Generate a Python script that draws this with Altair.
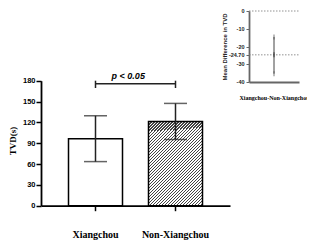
import altair as alt
import pandas as pd

# ---- data ----
groups = ["Xiangchou", "Non-Xiangchou"]
means = [96.5, 121.3]
sds = [33.0, 26.0]
y_ticks = [0, 30, 60, 90, 120, 150, 180]

bracket_y = 175.7
bracket_lo = 169.5
bracket_hi = 180.0
p_label = "p < 0.05"
p_y = 186.8

diff_label = "Xiangchou-Non-Xiangchou"
diff_mean = [-24.70]
diff_lo = [-35.3]
diff_hi = [-14.6]
diff_ticks = [0, -10, -20, -24.70, -30, -40]
diff_tick_labels = ["0", "-10", "-20", "-24.70", "-30", "-40"]
ref_lines = [0, -24.70]

# ---- tables ----
bars = pd.DataFrame({
    "g": groups,
    "m": means,
    "lo": [m - s for m, s in zip(means, sds)],
    "hi": [m + s for m, s in zip(means, sds)],
})
bracket = pd.DataFrame({"g": groups, "y": [bracket_lo] * 2, "y2": [bracket_hi] * 2})
bracket_h = pd.DataFrame({"g": [groups[0]], "g2": [groups[1]], "y": [bracket_y]})
ptext = pd.DataFrame({"g": [groups[0]], "y": [p_y], "t": [p_label]})

diff = pd.DataFrame({"x": [0.5], "m": diff_mean, "lo": diff_lo, "hi": diff_hi})
refs = pd.DataFrame({"y": ref_lines, "x": [0.0] * len(ref_lines), "x2": [1.0] * len(ref_lines)})
tick_df = pd.DataFrame({"y": diff_ticks, "t": diff_tick_labels, "x": [0.0] * len(diff_ticks)})

SANS = "Liberation Sans"
SERIF = "Liberation Serif"
H = 232
W = 299

# ---- main chart scales / axes ----
xs = alt.Scale(domain=groups, range=[33, 222], paddingInner=0.325, paddingOuter=0.34375)
ys = alt.Scale(domain=[0, 180], range=[197.7, 72.7], nice=False, zero=False)

x_axis = alt.Axis(orient="bottom", offset=-(H - 197.7), title=None, labelAngle=0,
                  labelFont=SERIF, labelFontWeight="bold", labelFontSize=10,
                  labelColor="black", labelPadding=19, tickSize=5, tickWidth=1.5,
                  tickColor="black", domainColor="black", domainWidth=1.8, grid=False)
y_axis = alt.Axis(orient="left", offset=-33, values=y_ticks, title="TVD(s)",
                  titleFont=SERIF, titleFontWeight="bold", titleFontSize=9,
                  titleColor="black", titleX=-28.5, titleY=132.5, titleBaseline="middle",
                  labelFont=SANS, labelFontWeight="bold", labelFontSize=7.5,
                  labelColor="black", labelPadding=1, tickSize=5, tickWidth=1.5,
                  tickColor="black", domainColor="black", domainWidth=1.8, grid=False,
                  labelOverlap=False)

n = 46
stops = []
for i in range(n):
    a = i / n
    b = (i + 0.5) / n
    c = (i + 1) / n
    stops += [{"offset": a, "color": "#444444"}, {"offset": b, "color": "#444444"},
              {"offset": b, "color": "#ffffff"}, {"offset": c, "color": "#ffffff"}]
hatch = {"gradient": "linear", "x1": 0, "y1": 0, "x2": 0.748, "y2": 1.163, "stops": stops}

base = alt.Chart(bars)

bar_plain = base.transform_filter(alt.datum.g == groups[0]).mark_bar(
    fill="white", stroke="black", strokeWidth=1.5
).encode(
    x=alt.X("g:N", scale=xs, axis=x_axis, sort=groups),
    y=alt.Y("m:Q", scale=ys, axis=y_axis),
)
bar_hatch = base.transform_filter(alt.datum.g == groups[1]).mark_bar(
    fill=hatch, stroke="black", strokeWidth=1.5
).encode(
    x=alt.X("g:N", scale=xs, axis=None, sort=groups),
    y=alt.Y("m:Q", scale=ys, axis=None),
)
err = base.mark_rule(color="#222", strokeWidth=1.5).encode(
    x=alt.X("g:N", scale=xs, axis=None, sort=groups),
    y=alt.Y("lo:Q", scale=ys, axis=None),
    y2="hi:Q",
)
cap_hi = base.mark_tick(color="#222", thickness=1.5, size=23).encode(
    x=alt.X("g:N", scale=xs, axis=None, sort=groups),
    y=alt.Y("hi:Q", scale=ys, axis=None),
)
cap_lo = base.mark_tick(color="#222", thickness=1.5, size=23).encode(
    x=alt.X("g:N", scale=xs, axis=None, sort=groups),
    y=alt.Y("lo:Q", scale=ys, axis=None),
)
br_v = alt.Chart(bracket).mark_rule(color="#222", strokeWidth=1.5).encode(
    x=alt.X("g:N", scale=xs, axis=None, sort=groups),
    y=alt.Y("y:Q", scale=ys, axis=None),
    y2="y2:Q",
)
br_h = alt.Chart(bracket_h).mark_rule(color="#222", strokeWidth=1.5).encode(
    x=alt.X("g:N", scale=xs, axis=None, sort=groups),
    x2="g2:N",
    y=alt.Y("y:Q", scale=ys, axis=None),
)
ptx = alt.Chart(ptext).mark_text(
    font=SANS, fontWeight="bold", fontStyle="italic", fontSize=9, dx=40,
    baseline="middle", color="black"
).encode(
    x=alt.X("g:N", scale=xs, axis=None, sort=groups),
    y=alt.Y("y:Q", scale=ys, axis=None),
    text="t:N",
)

# ---- inset ----
xi = alt.Scale(domain=[0, 1], range=[241, 291], nice=False, zero=False)
yi = alt.Scale(domain=[-40, 0], range=[74, 3], nice=False, zero=False)

xi_axis = alt.Axis(orient="bottom", offset=-(H - 74), labels=False, ticks=False, grid=False,
                   title=diff_label, titleFont=SERIF, titleFontWeight="bold",
                   titleFontSize=6, titleColor="black", titlePadding=12,
                   domainColor="#666", domainWidth=1.8)
yi_axis = alt.Axis(orient="left", offset=-241, values=diff_ticks, grid=False,
                   labels=False, tickSize=3, tickWidth=1,
                   tickColor="#666", domainColor="#666", domainWidth=1.8,
                   title="Mean Difference in TVD", titleFont=SANS, titleFontWeight="bold",
                   titleFontSize=6, titleColor="#222", titleX=-25, titleY=38.5,
                   titleBaseline="middle")

ref = alt.Chart(refs).mark_rule(color="#777", strokeWidth=0.8, strokeDash=[1.5, 1.5]).encode(
    x=alt.X("x:Q", scale=xi, axis=xi_axis),
    x2="x2:Q",
    y=alt.Y("y:Q", scale=yi, axis=yi_axis),
)
tick_labels = alt.Chart(tick_df).mark_text(
    font=SANS, fontWeight="bold", fontSize=5.5, color="#222",
    align="right", baseline="middle", dx=-4.5
).encode(
    x=alt.X("x:Q", scale=xi, axis=None),
    y=alt.Y("y:Q", scale=yi, axis=None),
    text="t:N",
)
dbase = alt.Chart(diff)
d_err = dbase.mark_rule(color="#444", strokeWidth=1).encode(
    x=alt.X("x:Q", scale=xi, axis=None),
    y=alt.Y("lo:Q", scale=yi, axis=None),
    y2="hi:Q",
)
d_hi = dbase.mark_tick(color="#444", thickness=1, size=5).encode(
    x=alt.X("x:Q", scale=xi, axis=None),
    y=alt.Y("hi:Q", scale=yi, axis=None),
)
d_lo = dbase.mark_tick(color="#444", thickness=1, size=5).encode(
    x=alt.X("x:Q", scale=xi, axis=None),
    y=alt.Y("lo:Q", scale=yi, axis=None),
)
d_m = dbase.mark_tick(color="#222", thickness=1.2, size=5).encode(
    x=alt.X("x:Q", scale=xi, axis=None),
    y=alt.Y("m:Q", scale=yi, axis=None),
)

chart = alt.layer(
    bar_plain, bar_hatch, err, cap_hi, cap_lo, br_v, br_h, ptx,
    ref, tick_labels, d_err, d_hi, d_lo, d_m,
).resolve_scale(
    x="independent", y="independent"
).properties(
    width=W, height=H, padding=0, autosize=alt.AutoSizeParams(type="none"),
    background="white",
).configure_view(stroke=None)

chart.save("out.html", embed_options={"renderer": "svg", "actions": False})
